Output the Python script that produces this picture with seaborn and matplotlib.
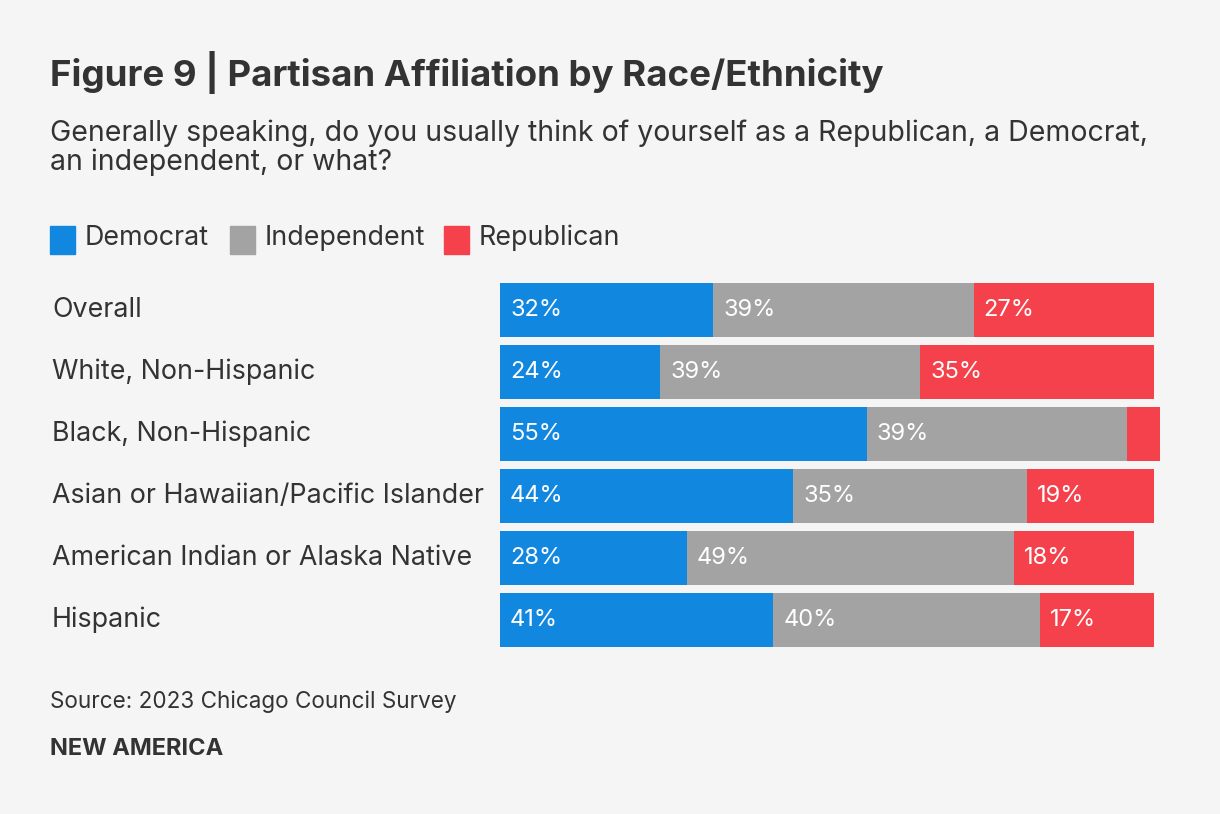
import matplotlib.pyplot as plt
import matplotlib.transforms as mtransforms
from matplotlib.patches import Rectangle
import seaborn as sns
import pandas as pd

# data
groups = ["Overall", "White, Non-Hispanic", "Black, Non-Hispanic",
          "Asian or Hawaiian/Pacific Islander", "American Indian or Alaska Native",
          "Hispanic"]
democrat = [32, 24, 55, 44, 28, 41]
independent = [39, 39, 39, 35, 49, 40]
republican = [27, 35, 5, 19, 18, 17]
series = ["Democrat", "Independent", "Republican"]
colors = ["#1287e0", "#a3a3a3", "#f4414b"]

BG = "#f5f5f5"
TXT = "#333333"
FONT = "Inter"

sns.set_style("white")
plt.rcParams["font.family"] = [FONT, "DejaVu Sans"]

df = pd.DataFrame({"group": groups, "Democrat": democrat,
                   "Independent": independent, "Republican": republican})
df["dem_end"] = df["Democrat"]
df["ind_end"] = df["Democrat"] + df["Independent"]
df["rep_end"] = df["ind_end"] + df["Republican"]

fig = plt.figure(figsize=(12.2, 8.14), dpi=100, facecolor=BG)
W, H = 1220, 814
ax = fig.add_axes([500 / W, 1 - 651 / H, 667 / W, 372 / H])
ax.set_facecolor(BG)

# stacked bars: draw cumulative totals back to front
for col, c in zip(["rep_end", "ind_end", "dem_end"], colors[::-1]):
    sns.barplot(data=df, x=col, y="group", color=c, width=0.87,
                saturation=1, ax=ax, orient="h", linewidth=0)

ax.set_xlim(0, 100)
ax.set_ylim(5.5, -0.5)
ax.set_xlabel("")
ax.set_ylabel("")
ax.set_xticks([])
ax.set_yticks([])
for s in ax.spines.values():
    s.set_visible(False)

# segment labels
starts = {"Democrat": [0] * len(groups),
          "Independent": list(df["dem_end"]),
          "Republican": list(df["ind_end"])}
for name in series:
    for i, (v, st) in enumerate(zip(df[name], starts[name])):
        if v >= 10:
            ax.text(st + 1.5, i, f"{v}%", color="white", fontsize=17,
                    va="center", ha="left")

# category labels
trans = mtransforms.blended_transform_factory(fig.transFigure, ax.transData)
for i, g in enumerate(groups):
    ax.text(52 / W, i, g, transform=trans, color=TXT, fontsize=19.3,
            va="center", ha="left")

# title / subtitle
fig.text(50 / W, 1 - 72 / H, "Figure 9 | Partisan Affiliation by Race/Ethnicity",
         fontsize=26.4, fontweight="bold", color=TXT, va="center", ha="left")
fig.text(50 / W, 1 - 148 / H,
         "Generally speaking, do you usually think of yourself as a Republican, a Democrat,\nan independent, or what?",
         fontsize=20.5, color=TXT, va="center", ha="left", linespacing=1.05)

# legend
lx = [50, 230, 444]
for x0, name, c in zip(lx, series, colors):
    fig.patches.append(Rectangle((x0 / W, 1 - 254 / H), 25 / W, 28 / H,
                                 transform=fig.transFigure, color=c))
    fig.text((x0 + 35) / W, 1 - 238 / H, name, fontsize=19.3, color=TXT,
             va="center", ha="left")

# footer
fig.text(50 / W, 1 - 702 / H, "Source: 2023 Chicago Council Survey",
         fontsize=16.2, color=TXT, va="center", ha="left")
fig.text(50 / W, 1 - 749 / H, "NEW AMERICA", fontsize=17, fontweight="bold",
         color=TXT, va="center", ha="left")

fig.savefig("out.png", dpi=100, facecolor=BG)
